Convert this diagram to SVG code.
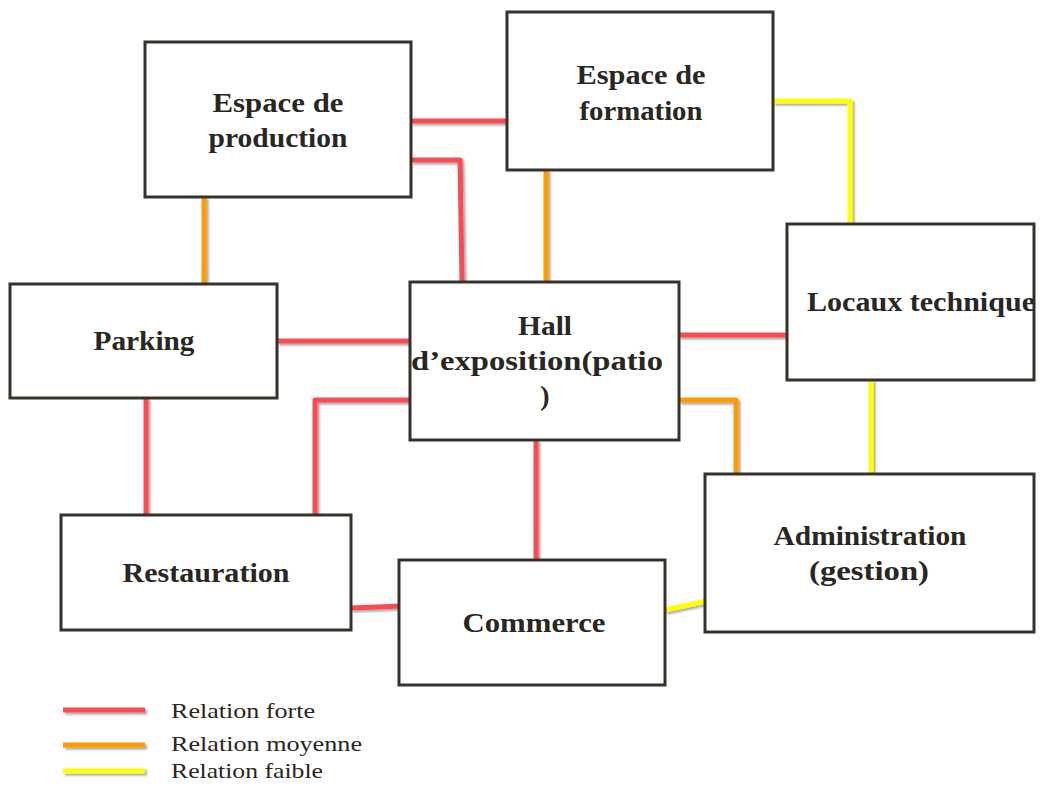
<svg xmlns="http://www.w3.org/2000/svg" width="1047" height="787" viewBox="0 0 1047 787">
<style>
.box{fill:#fff;stroke:#35322a;stroke-width:3}
.lbl{font-family:"Liberation Serif","Times New Roman",serif;font-weight:bold;font-size:28px;fill:#2a2622}
.leg{font-family:"Liberation Serif","Times New Roman",serif;font-size:21px;fill:#2a2622}
.c{fill:none;stroke-width:5;stroke-linejoin:round}
.r{stroke:#fa4b53}
.o{stroke:#ff9a00}
.y{stroke:#ffff00}
</style>
<defs>
<filter id="sh" x="-20%" y="-20%" width="140%" height="140%">
<feDropShadow dx="2" dy="2" stdDeviation="1.2" flood-color="#000" flood-opacity="0.35"/>
</filter>
</defs>
<g id="connectors" filter="url(#sh)">
<path class="c r" d="M411,121 H507"/>
<path class="c r" d="M411,160 H460 L462,282"/>
<path class="c o" d="M204,197 V284"/>
<path class="c o" d="M546,170 V282"/>
<path class="c y" d="M773,101 H850 V224"/>
<path class="c r" d="M277,341 H410"/>
<path class="c r" d="M146,398 V515"/>
<path class="c r" d="M410,400 H315 V515"/>
<path class="c r" d="M679,335 H787"/>
<path class="c o" d="M679,400 H736 V474"/>
<path class="c y" d="M871,380 V474"/>
<path class="c r" d="M536,440 V560"/>
<path class="c r" d="M351,608 L401,606"/>
<path class="c y" d="M665,610 L707,601"/>
</g>
<g id="production"><rect class="box" x="145" y="42" width="266" height="155"/>
<text class="lbl" x="278" y="112" text-anchor="middle" textLength="131" lengthAdjust="spacingAndGlyphs">Espace de</text>
<text class="lbl" x="278" y="147" text-anchor="middle" textLength="139" lengthAdjust="spacingAndGlyphs">production</text></g>
<g id="formation"><rect class="box" x="507" y="12" width="266" height="158"/>
<text class="lbl" x="641" y="84" text-anchor="middle" textLength="129" lengthAdjust="spacingAndGlyphs">Espace de</text>
<text class="lbl" x="641" y="120" text-anchor="middle" textLength="123" lengthAdjust="spacingAndGlyphs">formation</text></g>
<g id="locaux"><rect class="box" x="787" y="224" width="247" height="156"/>
<text class="lbl" x="921" y="311" text-anchor="middle" textLength="228" lengthAdjust="spacingAndGlyphs">Locaux technique</text></g>
<g id="parking"><rect class="box" x="10" y="284" width="267" height="114"/>
<text class="lbl" x="144" y="350" text-anchor="middle" textLength="101" lengthAdjust="spacingAndGlyphs">Parking</text></g>
<g id="hall"><rect class="box" x="410" y="282" width="269" height="158"/>
<text class="lbl" x="545" y="335" text-anchor="middle" textLength="54" lengthAdjust="spacingAndGlyphs">Hall</text>
<text class="lbl" x="537" y="370" text-anchor="middle" textLength="252" lengthAdjust="spacingAndGlyphs">d’exposition(patio</text>
<text class="lbl" x="545" y="405" text-anchor="middle">)</text></g>
<g id="restauration"><rect class="box" x="61" y="515" width="290" height="115"/>
<text class="lbl" x="206" y="582" text-anchor="middle" textLength="167" lengthAdjust="spacingAndGlyphs">Restauration</text></g>
<g id="commerce"><rect class="box" x="399" y="560" width="266" height="125"/>
<text class="lbl" x="534" y="632" text-anchor="middle" textLength="143" lengthAdjust="spacingAndGlyphs">Commerce</text></g>
<g id="administration"><rect class="box" x="705" y="474" width="329" height="158"/>
<text class="lbl" x="870" y="545" text-anchor="middle" textLength="193" lengthAdjust="spacingAndGlyphs">Administration</text>
<text class="lbl" x="869" y="580" text-anchor="middle" textLength="120" lengthAdjust="spacingAndGlyphs">(gestion)</text></g>
<g id="legend">
<g filter="url(#sh)">
<path class="c r" d="M63,710 H145"/>
<path class="c o" d="M63,745 H145"/>
<path class="c y" d="M63,771 H145"/>
</g>
<text class="leg" x="171" y="718" textLength="144" lengthAdjust="spacingAndGlyphs">Relation forte</text>
<text class="leg" x="171" y="751" textLength="191" lengthAdjust="spacingAndGlyphs">Relation moyenne</text>
<text class="leg" x="171" y="778" textLength="152" lengthAdjust="spacingAndGlyphs">Relation faible</text>
</g>
</svg>
